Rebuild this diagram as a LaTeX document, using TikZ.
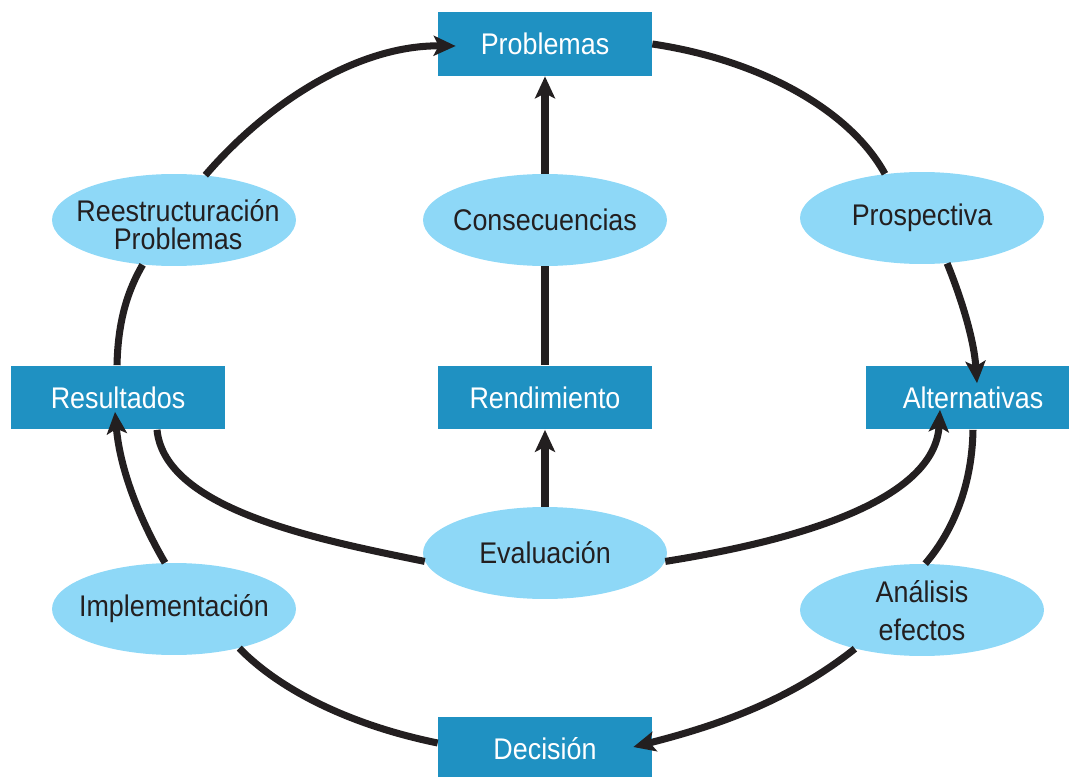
\documentclass[tikz,border=0pt]{standalone}
\usepackage{fontspec}
\setmainfont[FakeStretch=0.9]{Liberation Sans}
\usetikzlibrary{arrows.meta,shapes.geometric}
\definecolor{boxblue}{RGB}{31,145,194}
\definecolor{ellblue}{RGB}{142,216,247}
\definecolor{ink}{RGB}{35,31,32}
\tikzset{
  box/.style={fill=boxblue,text=white,minimum width=4.28cm,minimum height=1.28cm,inner sep=0pt,font=\fontsize{17}{19}\selectfont},
  ell/.style={ellipse,fill=ellblue,minimum width=4.88cm,minimum height=1.84cm,inner sep=0pt},
  elltext/.style={text=ink,inner sep=0pt,align=center,font=\fontsize{17}{16}\selectfont},
  conn/.style={draw=ink,line width=4pt},
  arr/.style={conn,-{Stealth[length=0.44cm,width=0.4cm,inset=0.1cm]}}
}
\begin{document}
\begin{tikzpicture}[x=0.02cm,y=-0.02cm]
\useasboundingbox (0,0) rectangle (1069,777);
% nodes
\node[box] (prob) at (545,44) {Problemas};
\node[box] (res) at (118,397.5) {Resultados};
\node[box] (rend) at (545,397.5) {Rendimiento};
\node[box] (alt) at (973,397.5) {Alternativas};
\node[box] (dec) at (545,749) {Decisión};
\node[ell] (reest) at (174,220) {};
\node[ell] (cons) at (545,220) {};
\node[ell] (pros) at (922,218) {};
\node[ell] (eval) at (545,553) {};
\node[ell] (impl) at (174,609) {};
\node[ell] (anal) at (922,610) {};
\node[elltext] (reestT) at (178,225) {Reestructuración\\Problemas};
\node[elltext] (consT) at (545,220) {Consecuencias};
\node[elltext] (prosT) at (922,218) {Prospectiva};
\node[elltext] (evalT) at (545,553) {Evaluación};
\node[elltext] (implT) at (174,609) {Implementación};
\node[elltext,font=\fontsize{17}{21.5}\selectfont] (analT) at (922,611) {Análisis\\efectos};
% outer loop
\draw[conn] ([shift={(-1,0)}]res.north) .. controls (118,320) and (128,290) .. (reest.-125);
\draw[arr] (reest.55) .. controls (270,100) and (360,45) .. ([shift={(18,2)}]prob.west);
\draw[conn] (prob.east) .. controls (760,60) and (850,110) .. (pros.130);
\draw[arr] (pros.-61) .. controls (962,300) and (974,340) .. ([shift={(4,18)}]alt.north);
\draw[conn] (alt.south) .. controls (972,490) and (950,535) .. (anal.86);
\draw[arr] (anal.-150) .. controls (790,700) and (720,725) .. ([shift={(-19,-2)}]dec.east);
\draw[conn] ([shift={(0,-6)}]dec.west) .. controls (350,725) and (280,690) .. (impl.-31);
\draw[arr] (impl.101) .. controls (140,520) and (120,470) .. ([shift={(-3,-18)}]res.south);
% inner
\draw[arr] (eval.north) -- (rend.south);
\draw[conn] (rend.north) -- (cons.south);
\draw[arr] (cons.north) -- (prob.south);
\draw[conn] ([shift={(39,0)}]res.south) .. controls (165,510) and (320,540) .. (eval.-176);
\draw[arr] (eval.-4) .. controls (800,540) and (935,500) .. ([shift={(-33,-20)}]alt.south);
\end{tikzpicture}
\end{document}
